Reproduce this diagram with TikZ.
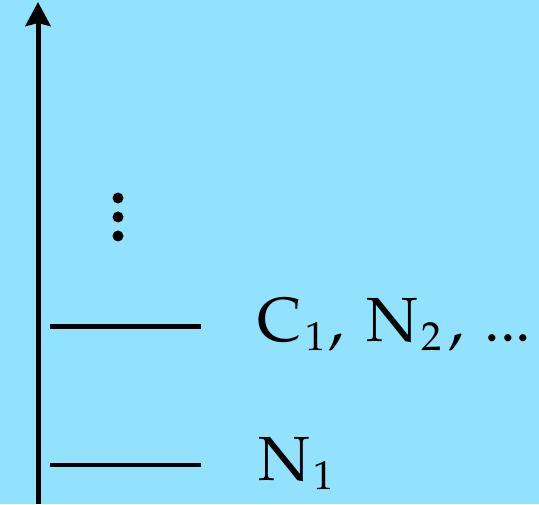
\documentclass[tikz,border=0pt]{standalone}
\usepackage[T1]{fontenc}
\usepackage{mathpazo}
\DeclareMathSizes{35.5}{35.5}{23}{16}
\usetikzlibrary{arrows.meta}
\definecolor{skyback}{RGB}{146,226,254}
\newcommand{\lvsub}[1]{_{\kern2pt #1}}
\begin{document}
\begin{tikzpicture}[line width = 0.1cm, >={Stealth[length=0.48cm, width=0.5cm, inset=0.06cm]}]
    \tikzstyle{level} = [line width = 0.09cm]
    \tikzstyle{label} = [anchor = base west, inner sep = 0pt, font = \fontsize{35.5}{40}\selectfont]

    \fill[skyback] (0,0) rectangle (10.78,10.08);
    \useasboundingbox (0,0) rectangle (10.78,10.08);

    \coordinate (axisbottom) at (0.76,0);
    \coordinate (axistop) at (0.76,10.04);
    \coordinate (lowleft) at (1.0,0.78);
    \coordinate (lowright) at (4.02,0.78);
    \coordinate (highleft) at (1.0,3.55);
    \coordinate (highright) at (4.02,3.55);

    \node[label] (ground) at (5.12,0.48) {$\mathrm{N}\lvsub{1}$};
    \node[label] (excited) at (5.10,3.26) {$\mathrm{C}\lvsub{1}\kern1pt,\kern7pt\mathrm{N}\lvsub{2}\kern3pt,\kern6pt\mathrm{...}$};

    \draw[->] (axisbottom) -- (axistop);
    \draw[level] (lowleft) -- (lowright);
    \draw[level] (highleft) -- (highright);

    % dots for the higher levels
    \foreach \y in {6.12, 5.74, 5.36}
        \fill (2.36,\y) circle (0.11);
\end{tikzpicture}
\end{document}
